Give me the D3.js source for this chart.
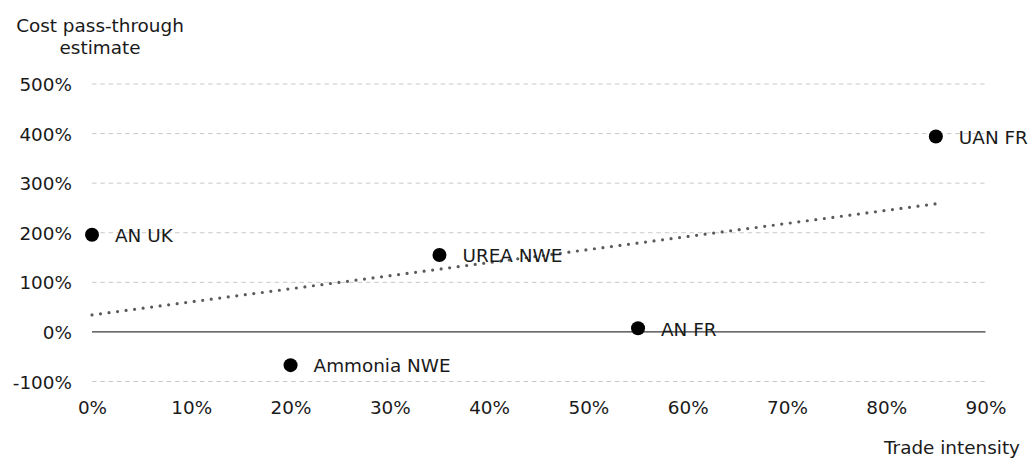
<!DOCTYPE html>
<html>
<head>
<meta charset="utf-8">
<script src="https://cdn.jsdelivr.net/npm/d3@7"></script>
<style>
  html, body { margin: 0; padding: 0; background: #fff; }
  svg text { font-family: "DejaVu Sans", Verdana, sans-serif; fill: #1a1a1a; }
</style>
</head>
<body>
<svg id="chart" width="1031" height="459"></svg>
<script>
// Products and their trade intensity / cost pass-through estimate
const products = ["AN UK", "UREA NWE", "AN FR", "Ammonia NWE", "UAN FR"];
const tradeIntensity = [0.0, 0.35, 0.55, 0.20, 0.85];
const passThrough = [1.96, 1.55, 0.075, -0.67, 3.94];

const xTicks = [0, 0.1, 0.2, 0.3, 0.4, 0.5, 0.6, 0.7, 0.8, 0.9];
const yTicks = [-1, 0, 1, 2, 3, 4, 5];

const FS = 18.4;
const svg = d3.select("#chart");
// percent format with a plain hyphen for negatives
const fmt = d => d3.format(".0%")(d).replace("\u2212", "-");

const x = d3.scaleLinear().domain([0, 0.9]).range([92, 985.5]);
const y = d3.scaleLinear().domain([-1, 5]).range([381.5, 84]);

// Horizontal gridlines (zero line solid)
svg.append("g")
  .selectAll("line")
  .data(yTicks)
  .join("line")
  .attr("x1", x(0))
  .attr("x2", x(0.9))
  .attr("y1", d => y(d))
  .attr("y2", d => y(d))
  .attr("stroke", d => d === 0 ? "#3a3a3a" : "#c9c9c9")
  .attr("stroke-width", d => d === 0 ? 1.3 : 1)
  .attr("stroke-dasharray", d => d === 0 ? null : "4.5 3.8");

// Y axis labels
const yAxis = d3.axisLeft(y).tickValues(yTicks).tickFormat(fmt).tickSize(0).tickPadding(0);
const gy = svg.append("g").attr("transform", "translate(72,0)").call(yAxis);
gy.select(".domain").remove();
gy.selectAll("text").attr("font-size", FS).attr("font-family", "DejaVu Sans, Verdana, sans-serif").attr("fill", "#1a1a1a").attr("dy", "0.36em");

// X axis labels
const xAxis = d3.axisBottom(x).tickValues(xTicks).tickFormat(fmt).tickSize(0).tickPadding(0);
const gx = svg.append("g").attr("transform", "translate(0,400)").call(xAxis);
gx.select(".domain").remove();
gx.selectAll("text").attr("font-size", FS).attr("font-family", "DejaVu Sans, Verdana, sans-serif").attr("fill", "#1a1a1a").attr("dy", "0.75em");

// Linear trendline fitted to the points
const n = tradeIntensity.length;
const mx = d3.mean(tradeIntensity), my = d3.mean(passThrough);
let sxy = 0, sxx = 0;
for (let i = 0; i < n; i++) {
  sxy += (tradeIntensity[i] - mx) * (passThrough[i] - my);
  sxx += (tradeIntensity[i] - mx) ** 2;
}
const slope = sxy / sxx, intercept = my - slope * mx;
const xMin = d3.min(tradeIntensity), xMax = d3.max(tradeIntensity);
const tx1 = x(xMin), ty1 = y(intercept + slope * xMin);
const tx2 = x(xMax), ty2 = y(intercept + slope * xMax);
// spread the dots so one lands on each end of the line
const len = Math.hypot(tx2 - tx1, ty2 - ty1);
const gap = (len / Math.round(len / 8.6)) * 0.999;
svg.append("line")
  .attr("x1", tx1).attr("y1", ty1)
  .attr("x2", tx2).attr("y2", ty2)
  .attr("stroke", "#5a5a5a")
  .attr("stroke-width", 3.2)
  .attr("stroke-linecap", "round")
  .attr("stroke-dasharray", `0 ${gap}`);

// Points
const pts = products.map((p, i) => ({ name: p, x: tradeIntensity[i], y: passThrough[i] }));
svg.append("g").selectAll("circle")
  .data(pts).join("circle")
  .attr("cx", d => x(d.x)).attr("cy", d => y(d.y))
  .attr("r", 7).attr("fill", "#000");

svg.append("g").selectAll("text")
  .data(pts).join("text")
  .attr("x", d => x(d.x) + 23).attr("y", d => y(d.y))
  .attr("dy", "0.4em")
  .attr("font-size", FS)
  .text(d => d.name);

// Axis titles
const yt = svg.append("text").attr("text-anchor", "middle").attr("font-size", FS);
yt.append("tspan").attr("x", 100).attr("y", 32).text("Cost pass-through");
yt.append("tspan").attr("x", 100).attr("y", 54).text("estimate");

svg.append("text").attr("text-anchor", "end").attr("font-size", FS)
  .attr("x", 1020).attr("y", 454).text("Trade intensity");
</script>
</body>
</html>
